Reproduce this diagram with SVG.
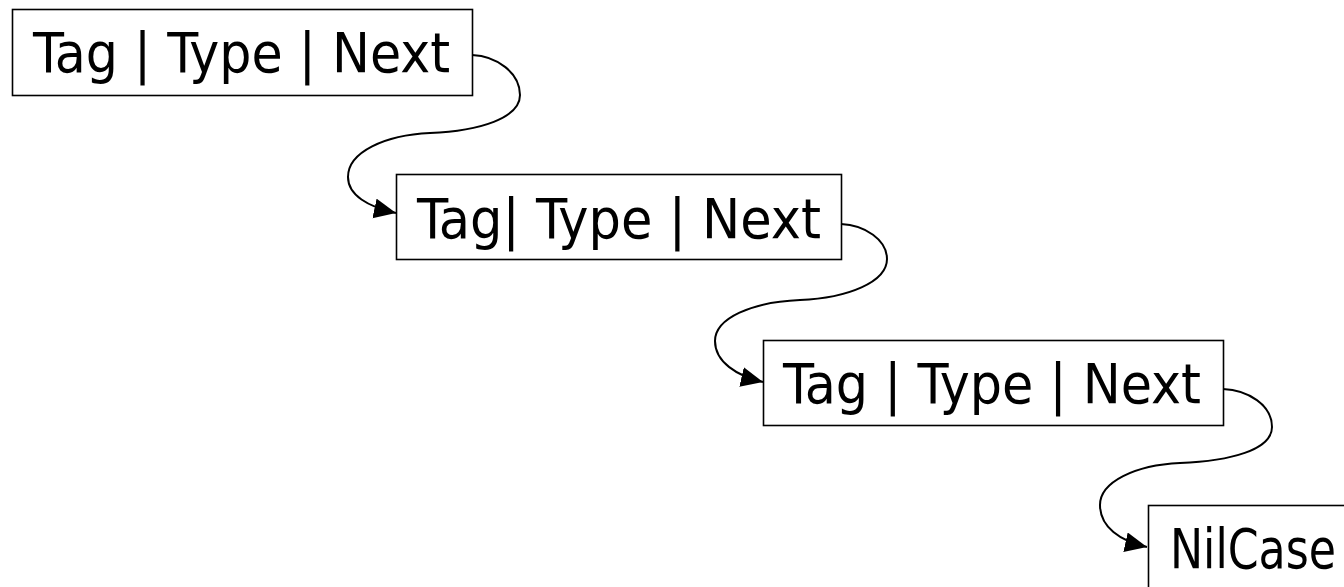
<svg xmlns="http://www.w3.org/2000/svg" width="1344" height="587" viewBox="0 0 1344 587">
  <style>
    .box { fill: #ffffff; stroke: #000000; stroke-width: 1.6; }
    .label { font-family: "DejaVu Sans Condensed", "DejaVu Sans", sans-serif; font-size: 55px; fill: #000000; }
    .link { fill: none; stroke: #000000; stroke-width: 2; marker-end: url(#arrow); }
  </style>
  <defs>
    <marker id="arrow" markerUnits="userSpaceOnUse" markerWidth="24" markerHeight="22" refX="22" refY="10" orient="auto">
      <path d="M0,0 L22,10 L0,20 z" fill="#000000"/>
    </marker>
  </defs>
  <rect width="1344" height="587" fill="#ffffff"/>

  <g id="node1">
    <rect class="box" x="12.5" y="9.5" width="460" height="86"/>
    <text class="label" x="33" y="72" textLength="417" lengthAdjust="spacingAndGlyphs">Tag | Type | Next</text>
  </g>
  <g id="node2">
    <rect class="box" x="396.5" y="174.5" width="445" height="85"/>
    <text class="label" x="417" y="238" textLength="404" lengthAdjust="spacingAndGlyphs">Tag| Type | Next</text>
  </g>
  <g id="node3">
    <rect class="box" x="763.5" y="340.5" width="460" height="85"/>
    <text class="label" x="783" y="403" textLength="418" lengthAdjust="spacingAndGlyphs">Tag | Type | Next</text>
  </g>
  <g id="node4">
    <rect class="box" x="1148.5" y="505.5" width="220" height="100"/>
    <text class="label" x="1170" y="568" textLength="166" lengthAdjust="spacingAndGlyphs">NilCase</text>
  </g>

  <g id="connectors">
    <path class="link" d="M472,55 C497,56 520,73 520,95 C520,118 480,131 430,133 C385,135 348,152 348,177 C348,195 368,207 396,213"/>
    <path class="link" d="M841,224 C865,225 887,240 887,259 C887,282 848,298 800,300 C752,302 715,318 715,341 C715,362 737,376 763,382"/>
    <path class="link" d="M1223,389 C1248,390 1272,405 1272,427 C1272,450 1230,461 1180,463 C1135,465 1100,482 1100,505 C1100,527 1120,541 1147,547"/>
  </g>
</svg>
